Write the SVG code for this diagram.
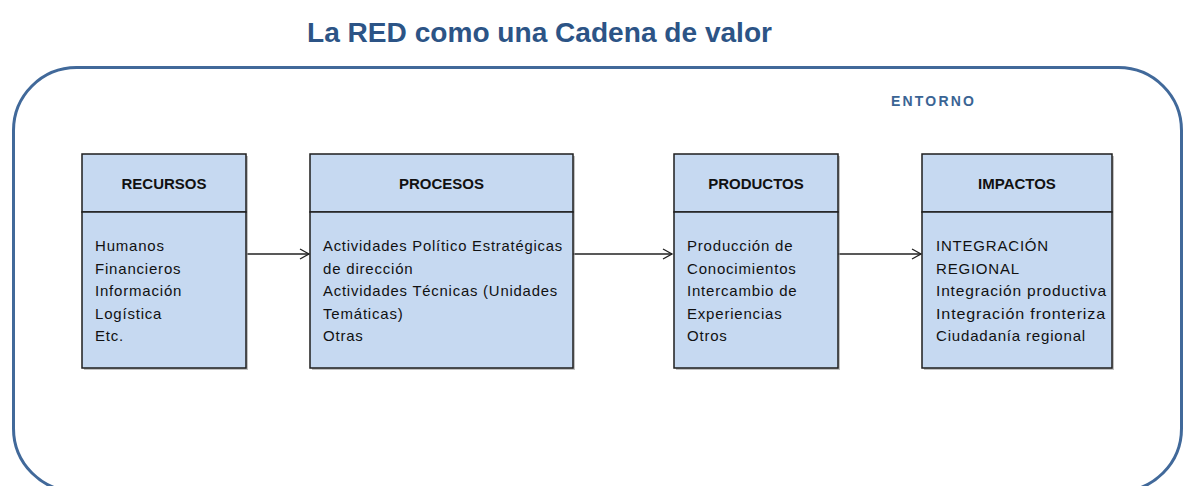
<svg xmlns="http://www.w3.org/2000/svg" width="1185" height="486" viewBox="0 0 1185 486">
<defs>
<style>
.title{font-family:"Liberation Sans",Arial,sans-serif;font-weight:bold;font-size:27px;fill:#2C5486}
.env{font-family:"Liberation Sans",Arial,sans-serif;font-weight:bold;font-size:14px;fill:#3A6494;letter-spacing:2.2px}
.box{fill:#C6D9F1;stroke:#1E1E1E;stroke-width:1.5}
.shadow{fill:#9A9A9A;opacity:0.6}
.hdr{font-family:"Liberation Sans",Arial,sans-serif;font-weight:bold;font-size:15px;fill:#111;text-anchor:middle}
.body{font-family:"Liberation Sans",Arial,sans-serif;font-size:15px;fill:#111;letter-spacing:0.8px}
.conn{stroke:#222;stroke-width:1.3;fill:none}
</style>
<marker id="arr" markerWidth="12" markerHeight="12" refX="10" refY="6" orient="auto" markerUnits="userSpaceOnUse">
<path d="M1,1 L10,6 L1,11" fill="none" stroke="#222" stroke-width="1.3"/>
</marker>
</defs>
<rect width="1185" height="486" fill="#FFFFFF"/>
<text class="title" x="307" y="42" textLength="465" lengthAdjust="spacingAndGlyphs">La RED como una Cadena de valor</text>
<g id="entorno">
<rect x="13.5" y="67.5" width="1168" height="424" rx="63" ry="63" fill="none" stroke="#41699A" stroke-width="3"/>
<text class="env" x="891" y="106">ENTORNO</text>
</g>
<g id="connectors">
<line class="conn" x1="247" y1="254" x2="309" y2="254" marker-end="url(#arr)"/>
<line class="conn" x1="573" y1="254" x2="672" y2="254" marker-end="url(#arr)"/>
<line class="conn" x1="838" y1="254" x2="921" y2="254" marker-end="url(#arr)"/>
</g>
<g id="recursos">
<rect class="shadow" x="84" y="156" width="164" height="214"/>
<rect class="box" x="82" y="154" width="164" height="58"/>
<rect class="box" x="82" y="212" width="164" height="156"/>
<text class="hdr" x="164" y="189">RECURSOS</text>
<text class="body" x="95" y="251">Humanos</text>
<text class="body" x="95" y="273.5">Financieros</text>
<text class="body" x="95" y="296">Información</text>
<text class="body" x="95" y="318.5">Logística</text>
<text class="body" x="95" y="341">Etc.</text>
</g>
<g id="procesos">
<rect class="shadow" x="312" y="156" width="263" height="214"/>
<rect class="box" x="310" y="154" width="263" height="58"/>
<rect class="box" x="310" y="212" width="263" height="156"/>
<text class="hdr" x="441.5" y="189">PROCESOS</text>
<text class="body" x="323" y="251" textLength="240" lengthAdjust="spacingAndGlyphs">Actividades Político Estratégicas</text>
<text class="body" x="323" y="273.5">de dirección</text>
<text class="body" x="323" y="296" textLength="235" lengthAdjust="spacingAndGlyphs">Actividades Técnicas (Unidades</text>
<text class="body" x="323" y="318.5">Temáticas)</text>
<text class="body" x="323" y="341">Otras</text>
</g>
<g id="productos">
<rect class="shadow" x="676" y="156" width="164" height="214"/>
<rect class="box" x="674" y="154" width="164" height="58"/>
<rect class="box" x="674" y="212" width="164" height="156"/>
<text class="hdr" x="756" y="189">PRODUCTOS</text>
<text class="body" x="687" y="251">Producción de</text>
<text class="body" x="687" y="273.5">Conocimientos</text>
<text class="body" x="687" y="296">Intercambio de</text>
<text class="body" x="687" y="318.5">Experiencias</text>
<text class="body" x="687" y="341">Otros</text>
</g>
<g id="impactos">
<rect class="shadow" x="924" y="156" width="190" height="214"/>
<rect class="box" x="922" y="154" width="190" height="58"/>
<rect class="box" x="922" y="212" width="190" height="156"/>
<text class="hdr" x="1017" y="189">IMPACTOS</text>
<text class="body" x="936" y="251">INTEGRACIÓN</text>
<text class="body" x="936" y="273.5">REGIONAL</text>
<text class="body" x="936" y="296" textLength="171" lengthAdjust="spacingAndGlyphs">Integración productiva</text>
<text class="body" x="936" y="318.5" textLength="170" lengthAdjust="spacingAndGlyphs">Integración fronteriza</text>
<text class="body" x="936" y="341" textLength="150" lengthAdjust="spacingAndGlyphs">Ciudadanía regional</text>
</g>
</svg>
